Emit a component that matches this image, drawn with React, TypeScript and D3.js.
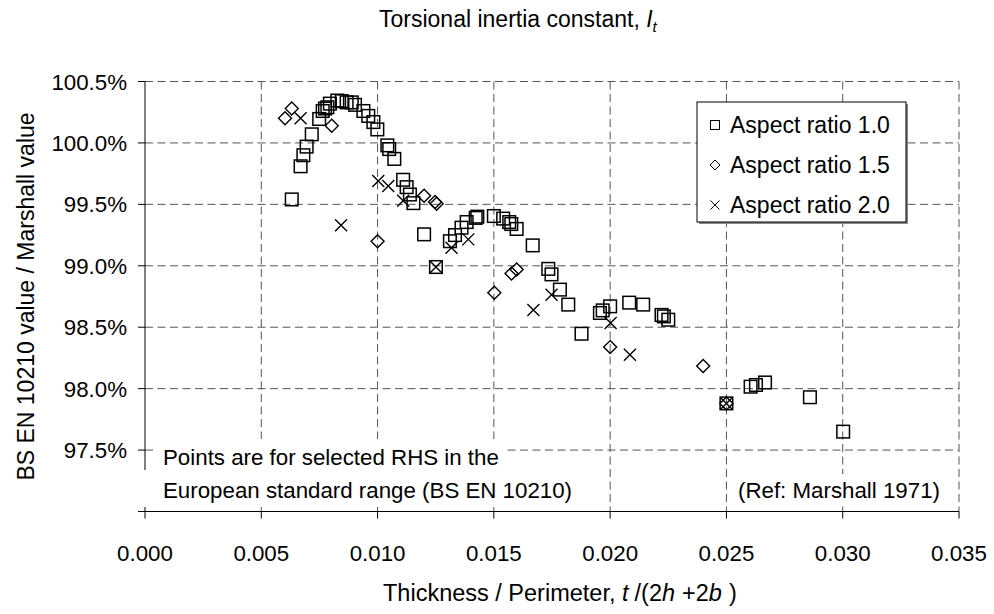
import React from "react";
import * as d3 from "d3";

// Aspect ratio 1.0 (squares): [t/(2h+2b), ratio %]
const ratio10: [number, number][] = [
  [0.00631, 99.54], [0.00669, 99.81], [0.00681, 99.9], [0.00695, 99.97], [0.00717, 100.07],
  [0.00749, 100.195], [0.00764, 100.26], [0.00774, 100.28], [0.00784, 100.29], [0.00795, 100.32],
  [0.00827, 100.345], [0.00846, 100.34], [0.00867, 100.33], [0.00889, 100.33], [0.00903, 100.31],
  [0.00939, 100.26], [0.0096, 100.22], [0.00982, 100.17], [0.00999, 100.11], [0.01042, 99.98],
  [0.0105, 99.95], [0.01072, 99.87], [0.0111, 99.7], [0.01125, 99.64], [0.01139, 99.58],
  [0.01154, 99.51], [0.012, 99.256], [0.01251, 98.99], [0.01311, 99.2], [0.01333, 99.25],
  [0.01361, 99.31], [0.01383, 99.356], [0.01422, 99.39], [0.01429, 99.4], [0.015, 99.405],
  [0.0154, 99.384], [0.01566, 99.356], [0.01575, 99.34], [0.01598, 99.3], [0.01667, 99.166],
  [0.01734, 98.975], [0.01748, 98.93], [0.01784, 98.806], [0.0182, 98.684], [0.01877, 98.447],
  [0.01956, 98.616], [0.01968, 98.637], [0.02, 98.67], [0.02082, 98.7], [0.02142, 98.684],
  [0.02221, 98.6], [0.02231, 98.588], [0.0225, 98.561], [0.025, 97.88], [0.02604, 98.016],
  [0.02627, 98.03], [0.02666, 98.05], [0.02859, 97.93], [0.03002, 97.65],
];

// Aspect ratio 1.5 (diamonds)
const ratio15: [number, number][] = [
  [0.00602, 100.2], [0.00631, 100.28], [0.00803, 100.14], [0.01, 99.2], [0.012, 99.57],
  [0.01247, 99.52], [0.01254, 99.505], [0.01502, 98.78], [0.01576, 98.937], [0.01598, 98.97],
  [0.02, 98.338], [0.024, 98.185], [0.025, 97.88],
];

// Aspect ratio 2.0 (crosses)
const ratio20: [number, number][] = [
  [0.00669, 100.2], [0.00843, 99.33], [0.01003, 99.69], [0.01046, 99.65], [0.0111, 99.53],
  [0.01251, 98.99], [0.01318, 99.147], [0.0139, 99.215], [0.0167, 98.64], [0.01748, 98.765],
  [0.02002, 98.534], [0.02085, 98.275], [0.025, 97.88],
];

const xTicks = [0, 0.005, 0.01, 0.015, 0.02, 0.025, 0.03, 0.035];
const yTicks = [97.0, 97.5, 98.0, 98.5, 99.0, 99.5, 100.0, 100.5];
const yTickLabels = ["", "97.5%", "98.0%", "98.5%", "99.0%", "99.5%", "100.0%", "100.5%"];
const legendLabels = ["Aspect ratio 1.0", "Aspect ratio 1.5", "Aspect ratio 2.0"];

const FONT = "'Liberation Sans', Arial, Helvetica, sans-serif";

export default function App() {
  const W = 994, H = 614;
  const x = d3.scaleLinear().domain([0, 0.035]).range([145, 959]);
  const y = d3.scaleLinear().domain([97.0, 100.5]).range([511.5, 81.5]);
  const [x0, x1] = x.range();
  const [yb, yt] = y.range();
  const grid = "#555";
  const dash = "8,4.5";

  const square = (cx: number, cy: number, h: number, sw: number, k: string) => (
    <rect key={k} x={cx - h} y={cy - h} width={2 * h} height={2 * h} fill="none" stroke="#000" strokeWidth={sw} />
  );
  const diamond = (cx: number, cy: number, h: number, sw: number, k: string) => (
    <path key={k} d={`M${cx},${cy - h}L${cx + h},${cy}L${cx},${cy + h}L${cx - h},${cy}Z`} fill="none" stroke="#000" strokeWidth={sw} />
  );
  const cross = (cx: number, cy: number, h: number, sw: number, k: string) => (
    <path key={k} d={`M${cx - h},${cy - h}L${cx + h},${cy + h}M${cx - h},${cy + h}L${cx + h},${cy - h}`} fill="none" stroke="#000" strokeWidth={sw} />
  );

  return (
    <svg width={W} height={H} style={{ position: "absolute", left: 0, top: 0, display: "block", background: "#fff" }} fontFamily={FONT}>
      <rect x={0} y={0} width={W} height={H} fill="#fff" />
      {/* horizontal gridlines */}
      {yTicks.slice(1).map((t) => (
        <line key={"hg" + t} x1={x0} x2={x1} y1={y(t)} y2={y(t)} stroke={grid} strokeDasharray={dash} />
      ))}
      {/* vertical gridlines */}
      {xTicks.slice(1).map((t) => (
        <line key={"vg" + t} x1={x(t)} x2={x(t)} y1={yt} y2={yb} stroke={grid} strokeDasharray={dash} />
      ))}

      {/* axes */}
      <line x1={x0} x2={x0} y1={yt} y2={yb} stroke="#000" />
      <line x1={x0} x2={x1} y1={yb} y2={yb} stroke="#000" />
      {yTicks.map((t) => (
        <line key={"yt" + t} x1={x0 - 7} x2={x0} y1={y(t)} y2={y(t)} stroke="#000" />
      ))}
      {xTicks.map((t) => (
        <line key={"xt" + t} x1={x(t)} x2={x(t)} y1={yb} y2={yb + 7} stroke="#000" />
      ))}

      {/* annotation boxes (white fill over grid) */}
      <rect x={155} y={439} width={350} height={31} fill="#fff" />
      <rect x={140} y={470} width={435} height={37} fill="#fff" />
      <rect x={732} y={474} width={212} height={32} fill="#fff" />
      <text x={163} y={465} fontSize={22.3} fill="#000">Points are for selected RHS in the</text>
      <text x={163} y={498} fontSize={22.3} fill="#000">European standard range (BS EN 10210)</text>
      <text x={940} y={498} fontSize={22.3} fill="#000" textAnchor="end">(Ref: Marshall 1971)</text>

      {/* tick labels */}
      {yTicks.map((t, i) => (
        <text key={"yl" + t} x={127} y={y(t) + 8} fontSize={22.3} textAnchor="end" fill="#000">{yTickLabels[i]}</text>
      ))}
      {xTicks.map((t) => (
        <text key={"xl" + t} x={x(t)} y={561} fontSize={22.3} textAnchor="middle" fill="#000">{d3.format(".3f")(t)}</text>
      ))}

      {/* data */}
      <g>
        {ratio10.map((d, i) => square(x(d[0]), y(d[1]), 6.3, 1.5, "s" + i))}
        {ratio15.map((d, i) => diamond(x(d[0]), y(d[1]), 6.5, 1.4, "d" + i))}
        {ratio20.map((d, i) => cross(x(d[0]), y(d[1]), 6, 1.4, "c" + i))}
      </g>

      {/* legend */}
      <rect x={699} y={104} width={209} height={120} fill="#888" />
      <rect x={697} y={102} width={209} height={120} fill="#fff" stroke="#000" />
      {legendLabels.map((l, i) => {
        const cy = 125 + i * 40;
        return (
          <g key={"lg" + i}>
            {i === 0 && square(715, cy, 4.5, 1, "ls")}
            {i === 1 && diamond(715, cy, 5, 1, "ld")}
            {i === 2 && cross(715, cy, 4.5, 1, "lc")}
            <text x={730} y={cy + 8} fontSize={23} fill="#000">{l}</text>
          </g>
        );
      })}

      {/* titles */}
      <text x={379} y={27} fontSize={23} fill="#000">
        Torsional inertia constant, <tspan fontStyle="italic">I</tspan>
        <tspan fontStyle="italic" fontSize={15} dy={5}>t</tspan>
      </text>
      <text x={383} y={601} fontSize={23.5} fill="#000">
        Thickness / Perimeter, <tspan fontStyle="italic">t</tspan>
        <tspan dx={6}>/(2</tspan>
        <tspan fontStyle="italic">h</tspan>
        <tspan dx={7}>+2</tspan>
        <tspan fontStyle="italic">b</tspan>
        <tspan dx={7}>)</tspan>
      </text>
      <text transform={`translate(34, ${(yt + yb) / 2 + 0}) rotate(-90)`} fontSize={23} textAnchor="middle" fill="#000">
        BS EN 10210 value / Marshall value
      </text>
    </svg>
  );
}
